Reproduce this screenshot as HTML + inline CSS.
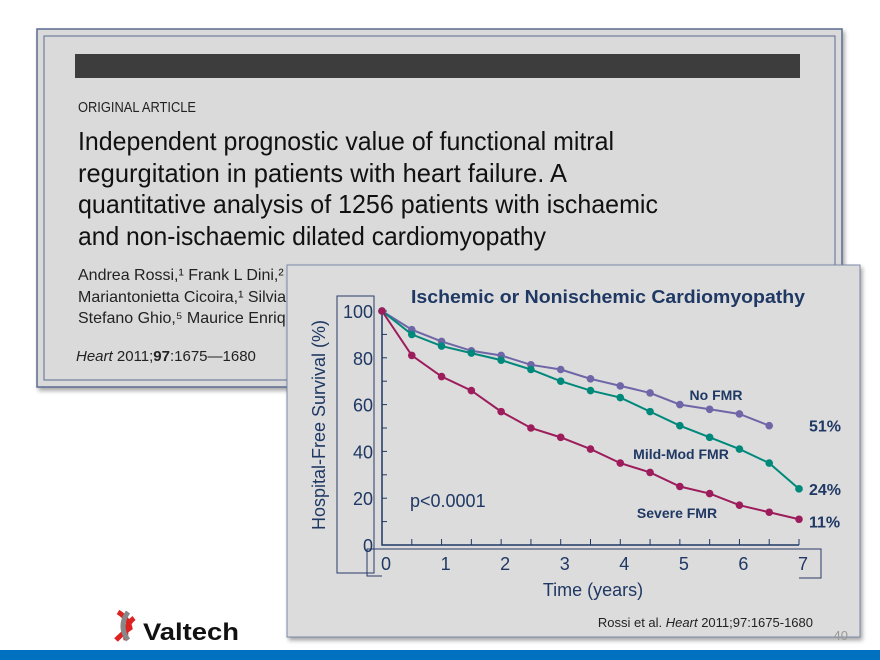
<!DOCTYPE html>
<html><head><meta charset="utf-8"><style>
html,body{margin:0;padding:0;background:#fff;width:880px;height:660px;overflow:hidden}
svg{display:block}
text{font-family:"Liberation Sans",sans-serif}
.n{font-family:"Liberation Sans Narrow","Liberation Sans",sans-serif}
</style></head><body>
<svg id="s" width="880" height="660" viewBox="0 0 880 660">
<defs><filter id="sh" x="-5%" y="-5%" width="110%" height="115%"><feDropShadow dx="2" dy="3" stdDeviation="2" flood-color="#000" flood-opacity="0.35"/></filter></defs>
<g>
<rect x="37" y="29" width="805" height="358" fill="#dadada" stroke="#5a6a90" stroke-width="1.5" filter="url(#sh)"/>
<rect x="44" y="36" width="791" height="344" fill="none" stroke="#5a6a90" stroke-width="1"/>
<rect x="75" y="54" width="725" height="24" fill="#3d3d3d"/>
<text class="n" x="78" y="112" font-size="15" fill="#222" textLength="118" lengthAdjust="spacingAndGlyphs">ORIGINAL ARTICLE</text>
<g font-size="26" fill="#111" class="n">
<text class="n" x="78" y="150" textLength="536" lengthAdjust="spacingAndGlyphs">Independent prognostic value of functional mitral</text>
<text class="n" x="78" y="182" textLength="489" lengthAdjust="spacingAndGlyphs">regurgitation in patients with heart failure. A</text>
<text class="n" x="78" y="213" textLength="580" lengthAdjust="spacingAndGlyphs">quantitative analysis of 1256 patients with ischaemic</text>
<text class="n" x="78" y="245" textLength="468" lengthAdjust="spacingAndGlyphs">and non-ischaemic dilated cardiomyopathy</text>
</g>
<g font-size="16" fill="#222">
<text class="n" x="78" y="280">Andrea Rossi,¹ Frank L Dini,² F</text>
<text class="n" x="78" y="302">Mariantonietta Cicoira,¹ Silvia F</text>
<text class="n" x="78" y="323">Stefano Ghio,⁵ Maurice Enrique</text>
</g>
<text class="n" x="76" y="361" font-size="15" fill="#222"><tspan font-style="italic">Heart</tspan> 2011;<tspan font-weight="bold">97</tspan>:1675—1680</text>
</g>
<g>
<path d="M118 612 q10 6 12 16 q-6 4 -14 12 M126 640 q-2 -14 8 -22" stroke="#d22" stroke-width="5" fill="none"/>
<path d="M128 612 q-10 14 0 28" stroke="#888" stroke-width="5" fill="none"/>
<text x="143" y="640" font-size="24" font-weight="bold" fill="#111" textLength="96" lengthAdjust="spacingAndGlyphs">Valtech</text>
</g>
<rect x="0" y="650" width="880" height="10" fill="#0070c0"/>
<g>
<rect x="287" y="265" width="573" height="372" fill="#dcdcdc" stroke="#7a8aa8" stroke-width="1" filter="url(#sh)"/>
<text x="608" y="303" font-size="18" font-weight="bold" fill="#1f3864" text-anchor="middle" textLength="394" lengthAdjust="spacingAndGlyphs">Ischemic or Nonischemic Cardiomyopathy</text>
<rect x="337" y="296" width="37" height="277" fill="none" stroke="#2a3a6a" stroke-width="1"/>
<path d="M382 576 H367 V549 H821 V578 H799" fill="none" stroke="#2a3a6a" stroke-width="1"/>
<text transform="translate(325,425) rotate(-90)" font-size="18" fill="#1f3864" text-anchor="middle">Hospital-Free Survival (%)</text>
<text x="593" y="596" font-size="18" fill="#1f3864" text-anchor="middle">Time (years)</text>
<text x="410" y="507" font-size="18" fill="#1f3864">p&lt;0.0001</text>
<text x="813" y="627" font-size="13" fill="#222" text-anchor="end">Rossi et al. <tspan font-style="italic">Heart</tspan> 2011;97:1675-1680</text>
<text x="848" y="640" font-size="13" fill="#999" text-anchor="end">40</text>
<g id="plot"></g>
</g>
</svg>
<script>
const years = [0,0.5,1,1.5,2,2.5,3,3.5,4,4.5,5,5.5,6,6.5,7];
const noFmr = [100,92,87,83,81,77,75,71,68,65,60,58,56,51];
const mildMod = [100,90,85,82,79,75,70,66,63,57,51,46,41,35,24];
const severe = [100,81,72,66,57,50,46,41,35,31,25,22,17,14,11];
const yTicks = [0,20,40,60,80,100];
const xTicks = [0,1,2,3,4,5,6,7];
const seriesNames = ["No FMR","Mild-Mod FMR","Severe FMR"];
const endLabels = ["51%","24%","11%"];
const NS="http://www.w3.org/2000/svg";
const X0=382,X1=799,Y0=545,Y1=311;
const xs=v=>X0+(v/7)*(X1-X0);
const ys=v=>Y0-(v/100)*(Y0-Y1);
const plot=document.getElementById('plot');
function mk(tag,a){const e=document.createElementNS(NS,tag);for(const k in a)e.setAttribute(k,a[k]);plot.appendChild(e);return e;}
let ax=mk('path',{d:`M${X0} ${Y1-3} V${Y0} H${X1}`,fill:'none',stroke:'#1f3864','stroke-width':1.5});


for(let v=10;v<=100;v+=10){const t=mk('line',{x1:X0,x2:X0+5,y1:ys(v),y2:ys(v),stroke:'#1f3864'});

}
for(let v=0.5;v<=7;v+=0.5){const t=mk('line',{x1:xs(v),x2:xs(v),y1:Y0,y2:Y0-6,stroke:'#1f3864'});

}
yTicks.forEach(v=>{const t=mk('text',{x:373,y:ys(v)+7,'font-size':18,fill:'#1f3864','text-anchor':'end'});t.textContent=v;

});
xTicks.forEach(v=>{const t=mk('text',{x:xs(v)+4,y:570,'font-size':18,fill:'#1f3864','text-anchor':'middle'});t.textContent=v;

});
const cols=['#6f66a8','#00897b','#9c1c5c'];
const data=[noFmr,mildMod,severe];
const keys=['no-fmr','mild-mod-fmr','severe-fmr'];
data.forEach((arr,i)=>{
 const pts=arr.map((v,j)=>xs(years[j])+','+ys(v)).join(' ');
 const l=mk('polyline',{points:pts,fill:'none',stroke:cols[i],'stroke-width':2});
 
 
 arr.forEach((v,j)=>{const c=mk('circle',{cx:xs(years[j]),cy:ys(v),r:3.8,fill:cols[i]});
 
 });
});
const lblPos=[[716,400],[681,459],[677,518]];
seriesNames.forEach((n,i)=>{const t=mk('text',{x:lblPos[i][0],y:lblPos[i][1],'font-size':14,'font-weight':'bold',fill:'#1f3864','text-anchor':'middle'});t.textContent=n;

});
data.forEach((arr,i)=>{const last=arr[arr.length-1];const t=mk('text',{x:809,y:ys(last)+6 + (i==2?2:0),'font-size':16,'font-weight':'bold',fill:'#1f3864'});t.textContent=endLabels[i];

});
</script>
</body></html>
